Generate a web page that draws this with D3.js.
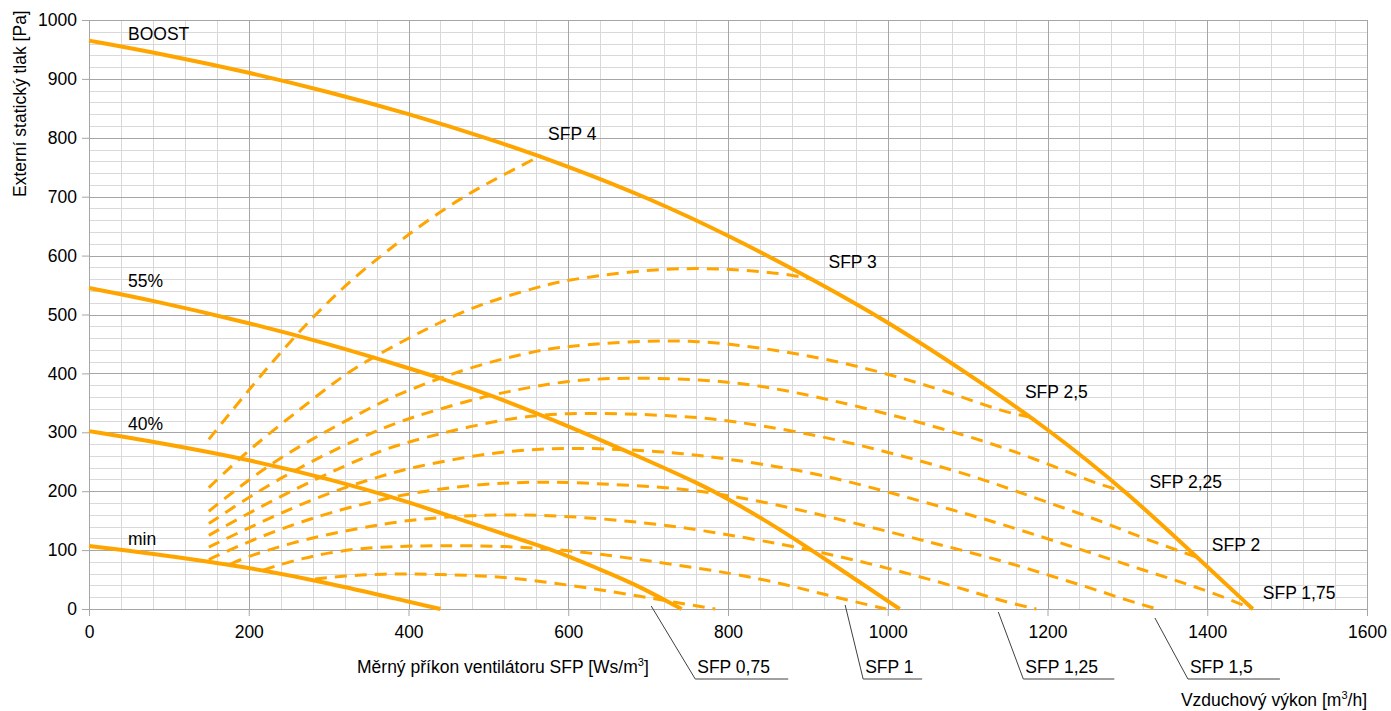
<!DOCTYPE html>
<html>
<head>
<meta charset="utf-8">
<script src="https://cdn.jsdelivr.net/npm/d3@7"></script>
<style>
  body { margin: 0; background: #fff; }
  svg { display: block; font-family: "Liberation Sans", Arial, Helvetica, sans-serif; }
</style>
</head>
<body>
<div id="chart"></div>
<script>
// axis ticks
const flowTicks = [0, 200, 400, 600, 800, 1000, 1200, 1400, 1600];
const pressureTicks = [0, 100, 200, 300, 400, 500, 600, 700, 800, 900, 1000];

// fan curves [m3/h, Pa]
const boostCurve = [[0, 965], [100, 940], [200, 911], [300, 878], [400, 841], [500, 799], [600, 752], [700, 698], [800, 635], [907, 559], [1000, 488], [1100, 400], [1200, 307], [1300, 198], [1387, 88], [1457, 0]];
const curve55 = [[0, 545], [76, 525], [200, 486], [300, 450], [400, 409], [440, 392], [500, 365], [600, 311], [700, 252], [765, 212], [800, 187], [850, 148], [907, 98], [960, 50], [1015, 0]];
const curve40 = [[0, 302], [64, 288], [200, 254], [300, 221], [400, 182], [440, 163], [520, 127], [565, 107], [600, 90], [640, 67], [681, 44], [742, 0]];
const curveMin = [[0, 107], [64, 97], [200, 71], [300, 44], [389, 16], [440, 0]];
const fanNames = ["BOOST", "55%", "40%", "min"];

// SFP iso-lines [m3/h, Pa]
const sfp4 = [[150, 288], [200, 372], [256, 462], [318, 547], [364, 598], [400, 636], [440, 675], [480, 709], [520, 738], [566, 770]];
const sfp3 = [[150, 206], [200, 271], [268, 343], [308, 386], [343, 418], [400, 460], [440, 487], [490, 518], [565, 548], [600, 559], [682, 574], [761, 580], [840, 574], [890, 565], [907, 559]];
const sfp25 = [[150, 166], [200, 220], [250, 266], [304, 307], [364, 350], [400, 372], [481, 413], [565, 440], [600, 446], [682, 455], [761, 456], [840, 444], [919, 426], [999, 400], [1082, 366], [1141, 336], [1178, 326]];
const sfp225 = [[150, 145], [200, 190], [260, 238], [318, 277], [364, 305], [400, 324], [481, 356], [520, 368], [600, 389], [680, 393], [765, 390], [840, 380], [919, 358], [999, 332], [1082, 301], [1141, 276], [1200, 247], [1262, 212], [1300, 198]];
const sfp2 = [[150, 125], [200, 163], [260, 205], [318, 242], [364, 268], [400, 284], [481, 312], [560, 331], [640, 333], [719, 329], [777, 324], [840, 312], [919, 293], [999, 267], [1082, 236], [1141, 210], [1200, 181], [1262, 152], [1320, 120], [1387, 88]];
const sfp175 = [[150, 105], [200, 138], [260, 175], [318, 206], [377, 230], [400, 239], [481, 261], [560, 273], [640, 273], [719, 267], [765, 261], [840, 247], [919, 228], [999, 199], [1082, 168], [1141, 145], [1224, 109], [1320, 66], [1399, 32], [1457, 0]];
const sfp15 = [[150, 84], [200, 115], [260, 146], [318, 170], [364, 185], [400, 196], [481, 212], [560, 216], [600, 215], [682, 210], [765, 202], [860, 178], [953, 148], [1057, 112], [1141, 83], [1200, 58], [1260, 33], [1299, 15], [1337, 0]];
const sfp125 = [[177, 76], [200, 90], [260, 115], [318, 132], [364, 143], [400, 151], [481, 160], [560, 160], [640, 154], [719, 143], [765, 134], [840, 117], [919, 96], [999, 70], [1086, 38], [1141, 14], [1186, 0]];
const sfp1 = [[218, 66], [235, 74], [268, 86], [298, 95], [339, 103], [377, 106], [440, 108], [520, 107], [600, 100], [680, 86], [765, 69], [840, 52], [900, 32], [950, 15], [998, 0]];
const sfp075 = [[283, 51], [320, 56], [364, 60], [440, 59], [520, 55], [600, 41], [680, 24], [740, 10], [784, 0]];
const sfpNames = ["SFP 4", "SFP 3", "SFP 2,5", "SFP 2,25", "SFP 2", "SFP 1,75", "SFP 1,5", "SFP 1,25", "SFP 1", "SFP 0,75"];

const orange = "#ffa500";
const margin = {top: 20, right: 24, bottom: 102, left: 89};
const width = 1391 - margin.left - margin.right;
const height = 711 - margin.top - margin.bottom;

const x = d3.scaleLinear().domain([0, 1600]).range([0, width]);
const y = d3.scaleLinear().domain([0, 1000]).range([height, 0]);
const px = v => Math.round(x(v)) + 0.5;
const py = v => Math.round(y(v)) + 0.5;

const svg = d3.select("#chart")
  .append("svg")
  .attr("width", width + margin.left + margin.right)
  .attr("height", height + margin.top + margin.bottom);

const g = svg.append("g")
  .attr("transform", `translate(${margin.left}, ${margin.top})`);

// grid: minor first, then major
const minorX = d3.range(40, 1600, 40).filter(v => v % 200 !== 0);
const minorY = d3.range(20, 1000, 20).filter(v => v % 100 !== 0);

g.append("g").selectAll("line")
  .data(minorX)
  .join("line")
  .attr("x1", px).attr("x2", px)
  .attr("y1", 0).attr("y2", height)
  .attr("stroke", "#d9d9d9");

g.append("g").selectAll("line")
  .data(minorY)
  .join("line")
  .attr("x1", 0).attr("x2", width)
  .attr("y1", py).attr("y2", py)
  .attr("stroke", "#d9d9d9");

g.append("g").selectAll("line")
  .data(flowTicks)
  .join("line")
  .attr("x1", px).attr("x2", px)
  .attr("y1", 0).attr("y2", height)
  .attr("stroke", "#a6a6a6");

g.append("g").selectAll("line")
  .data(pressureTicks)
  .join("line")
  .attr("x1", 0).attr("x2", width)
  .attr("y1", py).attr("y2", py)
  .attr("stroke", "#a6a6a6");

// axes
const xAxis = g.append("g")
  .attr("transform", `translate(0, ${height})`)
  .call(d3.axisBottom(x).tickValues(flowTicks).tickFormat(d3.format("d"))
    .tickSize(7).tickSizeOuter(0).tickPadding(10));
const yAxis = g.append("g")
  .call(d3.axisLeft(y).tickValues(pressureTicks).tickFormat(d3.format("d"))
    .tickSize(7).tickSizeOuter(0).tickPadding(5));

[xAxis, yAxis].forEach(a => {
  a.select(".domain").attr("stroke", "#a6a6a6");
  a.selectAll(".tick line").attr("stroke", "#a6a6a6");
  a.selectAll(".tick text")
    .attr("fill", "#000")
    .style("font-size", "17.5px")
    .style("font-family", "'Liberation Sans', Arial, sans-serif");
});

// curves (basis smooths the read-off points)
const line = d3.line()
  .x(d => x(d[0]))
  .y(d => y(d[1]))
  .curve(d3.curveBasis);

const sfpCurves = [sfp4, sfp3, sfp25, sfp225, sfp2, sfp175, sfp15, sfp125, sfp1, sfp075];
const fanCurves = [boostCurve, curve55, curve40, curveMin];

g.append("g").selectAll("path")
  .data(sfpCurves)
  .join("path")
  .attr("fill", "none")
  .attr("stroke", orange)
  .attr("stroke-width", 3)
  .attr("stroke-dasharray", "12,8")
  .attr("d", line);

g.append("g").selectAll("path")
  .data(fanCurves)
  .join("path")
  .attr("fill", "none")
  .attr("stroke", orange)
  .attr("stroke-width", 4)
  .attr("d", line);

const fontSize = "17.5px";

// fan labels, just right of the curve start
g.append("g").selectAll("text")
  .data(fanCurves)
  .join("text")
  .attr("x", 39)
  .attr("y", d => y(d[0][1]) - 1)
  .style("font-size", fontSize)
  .text((d, i) => fanNames[i]);

// SFP labels near the end of the upper iso-lines (offsets in px)
const upperOffsets = [[7, -15], [15, -12], [-5, -19], [22, -4], [15, -6], [10, -10]];
g.append("g").selectAll("text")
  .data(sfpCurves.slice(0, 6))
  .join("text")
  .attr("x", (d, i) => x(d[d.length - 1][0]) + upperOffsets[i][0])
  .attr("y", (d, i) => y(d[d.length - 1][1]) + upperOffsets[i][1])
  .style("font-size", fontSize)
  .text((d, i) => sfpNames[i]);

// lower SFP labels below the axis with leader lines
// [leader dx, leader dy, label shift, underline length]
const lowerLayout = [[-2, 9, 33, 92], [-38, 3, 25, 91], [-41, -4, 18, 59], [-64, -3, 44, 93]];
const lower = g.append("g");
sfpCurves.slice(6).forEach((d, i) => {
  const [ldx, ldy, shift, len] = lowerLayout[i];
  const end = d[d.length - 1];
  const sx = x(end[0]) + ldx;
  const sy = y(end[1]) + ldy;
  const lx = sx + shift;
  const ly = height + 70;
  lower.append("path")
    .attr("fill", "none")
    .attr("stroke", "#404040")
    .attr("stroke-width", 1)
    .attr("d", `M${sx},${sy}L${lx},${ly}L${lx + len},${ly}`);
  lower.append("text")
    .attr("x", lx + 2)
    .attr("y", ly - 6)
    .style("font-size", fontSize)
    .text(sfpNames[i + 6]);
});

// axis titles
svg.append("text")
  .attr("transform", "translate(26, 197) rotate(-90)")
  .style("font-size", fontSize)
  .text("Externí statický tlak [Pa]");

const xt = svg.append("text")
  .attr("x", 357)
  .attr("y", 673)
  .style("font-size", fontSize);
xt.append("tspan").text("Měrný příkon ventilátoru SFP [Ws/m");
xt.append("tspan").attr("dy", -7).style("font-size", "11px").text("3");
xt.append("tspan").attr("dy", 7).text("]");

const xt2 = svg.append("text")
  .attr("x", margin.left + width)
  .attr("y", 706)
  .attr("text-anchor", "end")
  .style("font-size", fontSize);
xt2.append("tspan").text("Vzduchový výkon [m");
xt2.append("tspan").attr("dy", -7).style("font-size", "11px").text("3");
xt2.append("tspan").attr("dy", 7).text("/h]");
</script>
</body>
</html>
